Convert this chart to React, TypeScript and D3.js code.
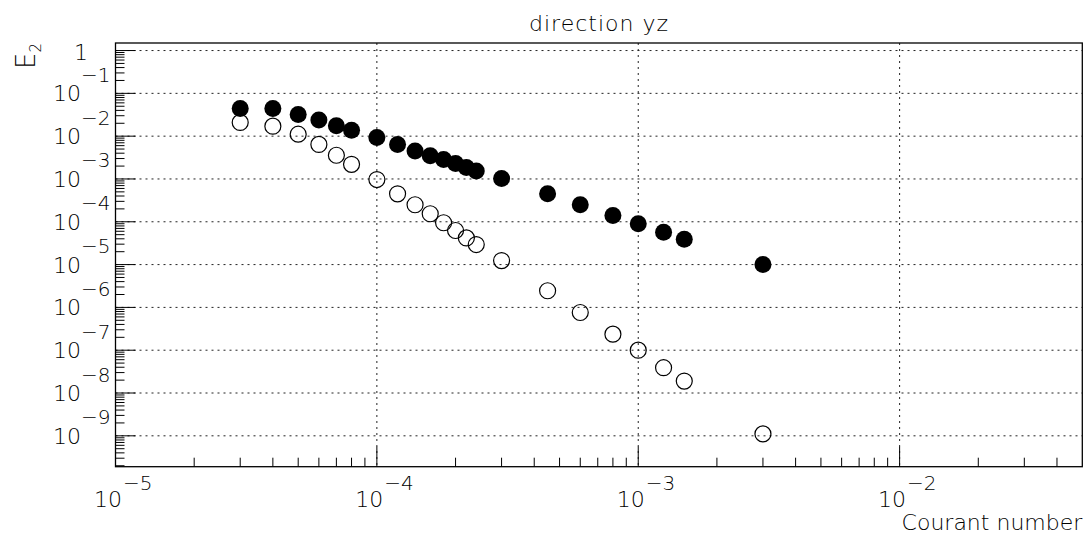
import React from "react";
import * as d3 from "d3";

const courant = [3e-5, 4e-5, 5e-5, 6e-5, 7e-5, 8e-5, 1e-4, 1.2e-4, 1.4e-4, 1.6e-4, 1.8e-4, 2e-4, 2.2e-4, 2.4e-4, 3e-4, 4.5e-4, 6e-4, 8e-4, 1e-3, 1.25e-3, 1.5e-3, 3e-3];
const filledE2 = [4.45e-2, 4.45e-2, 3.22e-2, 2.37e-2, 1.74e-2, 1.38e-2, 9.3e-3, 6.4e-3, 4.5e-3, 3.5e-3, 2.84e-3, 2.29e-3, 1.85e-3, 1.54e-3, 1.02e-3, 4.5e-4, 2.5e-4, 1.41e-4, 9.0e-5, 5.7e-5, 3.9e-5, 1.0e-5];
const openE2 = [2.09e-2, 1.71e-2, 1.11e-2, 6.4e-3, 3.58e-3, 2.2e-3, 9.7e-4, 4.5e-4, 2.5e-4, 1.54e-4, 9.5e-5, 6.25e-5, 4.2e-5, 2.94e-5, 1.24e-5, 2.45e-6, 7.6e-7, 2.37e-7, 1.0e-7, 3.9e-8, 1.9e-8, 1.11e-9];

const xDecades = [-5, -4, -3, -2];
const yDecades = [0, -1, -2, -3, -4, -5, -6, -7, -8, -9];
const xDomain = [1e-5, 5e-2];
const yDomain = [1.9e-10, 1.5];
const titleText = "direction yz";
const xTitle = "Courant number";

const FONT = "'DejaVu Sans', sans-serif";
const FW = 200;

export default function App() {
  const L = 115.5, R = 1082.3, T = 43, B = 466.7;
  const x = d3.scaleLog().domain(xDomain).range([L, R]);
  const y = d3.scaleLog().domain(yDomain).range([B, T]);

  const minorX: number[] = [];
  for (let e = -5; e <= -2; e++) for (let m = 2; m <= 9; m++) {
    const v = m * Math.pow(10, e);
    if (v > xDomain[0] && v < xDomain[1]) minorX.push(v);
  }
  const minorY: number[] = [];
  for (let e = -10; e <= 0; e++) for (let m = 2; m <= 9; m++) {
    const v = m * Math.pow(10, e);
    if (v > yDomain[0] && v < yDomain[1]) minorY.push(v);
  }
  const pts = courant.map((c, i) => ({ c, f: filledE2[i], o: openE2[i] }));

  return (
    <svg width={1091} height={540} style={{ position: "fixed", left: 0, top: 0, background: "#fff" }}
      fontFamily={FONT} fontWeight={FW}>
      <rect x={0} y={0} width={1091} height={540} fill="#fff" />
      {/* grid */}
      {xDecades.filter(e => e > -5).map(e => (
        <line key={"gx" + e} x1={x(Math.pow(10, e))} x2={x(Math.pow(10, e))} y1={T} y2={B}
          stroke="#222" strokeWidth={1} strokeDasharray="2,4" />
      ))}
      {yDecades.map(e => (
        <line key={"gy" + e} x1={L} x2={R} y1={y(Math.pow(10, e))} y2={y(Math.pow(10, e))}
          stroke="#222" strokeWidth={1} strokeDasharray="2,4" />
      ))}
      {/* ticks */}
      {xDecades.map(e => (
        <line key={"tx" + e} x1={x(Math.pow(10, e))} x2={x(Math.pow(10, e))} y1={B} y2={B - 20} stroke="#000" strokeWidth={1} />
      ))}
      {minorX.map((v, i) => (
        <line key={"mx" + i} x1={x(v)} x2={x(v)} y1={B} y2={B - 9} stroke="#000" strokeWidth={1} />
      ))}
      {yDecades.map(e => (
        <line key={"ty" + e} x1={L} x2={L + 20} y1={y(Math.pow(10, e))} y2={y(Math.pow(10, e))} stroke="#000" strokeWidth={1} />
      ))}
      {minorY.map((v, i) => (
        <line key={"my" + i} x1={L} x2={L + 9} y1={y(v)} y2={y(v)} stroke="#000" strokeWidth={1} />
      ))}
      {/* frame */}
      <rect x={L} y={T} width={R - L} height={B - T} fill="none" stroke="#000" strokeWidth={1.3} />
      {/* points */}
      {pts.map((p, i) => (
        <circle key={"o" + i} cx={x(p.c)} cy={y(p.o)} r={8} fill="none" stroke="#000" strokeWidth={1.2} />
      ))}
      {pts.map((p, i) => (
        <circle key={"f" + i} cx={x(p.c)} cy={y(p.f)} r={8.5} fill="#000" />
      ))}
      {/* y labels */}
      {yDecades.map(e => {
        const gy = y(Math.pow(10, e));
        if (e === 0) return <text key={"ly" + e} x={88} y={gy + 9.5} fontSize={22} textAnchor="end" fill="#000">1</text>;
        return (
          <g key={"ly" + e}>
            <text x={81} y={gy + 8} fontSize={22} textAnchor="end" fill="#000">10</text>
            <text x={81} y={gy - 11.5} fontSize={20} textAnchor="start" fill="#000">{"\u2212" + (-e)}</text>
          </g>
        );
      })}
      {/* x labels */}
      {xDecades.map(e => {
        const gx = x(Math.pow(10, e));
        return (
          <g key={"lx" + e}>
            <text x={gx + 6.5} y={507} fontSize={22} textAnchor="end" fill="#000">10</text>
            <text x={gx + 7.5} y={490} fontSize={20} textAnchor="start" fill="#000">{"\u2212" + (-e)}</text>
          </g>
        );
      })}
      {/* titles */}
      <text x={599} y={31} fontSize={22} letterSpacing={1} textAnchor="middle" fill="#000">{titleText}</text>
      <text x={R} y={530} fontSize={22} textAnchor="end" fill="#000">{xTitle}</text>
      <text transform={`translate(35,43) rotate(-90)`} fontSize={26} textAnchor="end" fill="#000">
        E<tspan fontSize={15} dy={6}>2</tspan>
      </text>
    </svg>
  );
}
